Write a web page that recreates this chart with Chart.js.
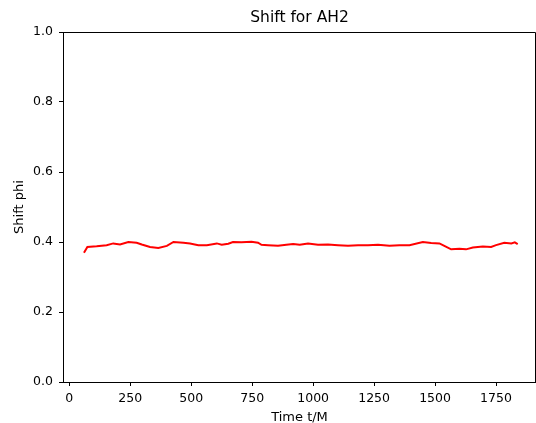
<!DOCTYPE html>
<html><head><meta charset="utf-8">
<script src="https://cdn.jsdelivr.net/npm/chart.js@4"></script>
<style>html,body{margin:0;padding:0;background:#fff}#wrap{width:536px;height:423px}</style>
</head><body><div id="wrap"><canvas id="c" width="536" height="423"></canvas></div>
<script>
const times = [60,74,112,153,180,208,242,276,297,331,365,400,427,468,495,529,564,605,625,652,
  671,706,747,774,788,815,856,890,918,945,979,1020,1061,1102,1143,1184,1225,1266,
  1313,1354,1395,1450,1484,1518,1538,1566,1600,1627,1655,1696,1730,1750,1784,1813,1827,1839];
const shift = [0.369,0.386,0.388,0.391,0.396,0.393,0.400,0.398,0.393,0.386,0.383,0.389,0.400,0.398,0.396,0.391,0.391,0.396,0.392,0.395,
  0.400,0.399,0.401,0.398,0.392,0.391,0.389,0.392,0.394,0.392,0.396,0.392,0.393,0.391,0.389,0.391,0.391,0.392,
  0.389,0.391,0.391,0.400,0.397,0.396,0.389,0.379,0.381,0.379,0.384,0.387,0.386,0.391,0.398,0.396,0.399,0.394];
const xTicks = [0,250,500,750,1000,1250,1500,1750];
const yTicks = [0.0,0.2,0.4,0.6,0.8,1.0];
const titleText = "Shift for AH2";
const xLabel = "Time t/M";
const yLabel = "Shift phi";

const FONT = "'DejaVu Sans', sans-serif";
const frame = {
  id: 'frame',
  afterDraw(chart) {
    const a = chart.chartArea, ctx = chart.ctx;
    ctx.save();
    ctx.strokeStyle = '#000';
    ctx.lineWidth = 1;
    ctx.beginPath();
    ctx.moveTo(a.left, Math.round(a.top) + 0.5);
    ctx.lineTo(Math.round(a.right) - 0.5, Math.round(a.top) + 0.5);
    ctx.lineTo(Math.round(a.right) - 0.5, a.bottom);
    ctx.stroke();
    ctx.fillStyle = '#000';
    ctx.font = "15.5px " + FONT;
    ctx.textAlign = 'center';
    ctx.textBaseline = 'middle';
    ctx.fillText(titleText, (a.left + a.right) / 2, 18);
    ctx.restore();
  }
};

new Chart(document.getElementById('c'), {
  type: 'line',
  data: {
    datasets: [{
      data: times.map((t, i) => ({x: t, y: shift[i]})),
      borderColor: '#ff0000',
      borderWidth: 2,
      pointRadius: 0,
      tension: 0,
      fill: false
    }]
  },
  options: {
    responsive: false,
    animation: false,
    devicePixelRatio: 1,
    layout: {padding: {left: 0, right: 0, top: 32, bottom: 0}},
    plugins: {
      legend: {display: false},
      tooltip: {enabled: false},
      title: {display: false}
    },
    scales: {
      x: {
        type: 'linear', min: -26, max: 1914,
        afterBuildTicks: s => { s.ticks = xTicks.map(v => ({value: v})); },
        afterFit: s => { s.height = 41; },
        grid: {display: true, drawOnChartArea: false, drawTicks: true, tickLength: 4, color: '#000', tickColor: '#000'},
        border: {display: true, color: '#000'},
        ticks: {color: '#000', font: {family: FONT, size: 12.5}, padding: 5, maxRotation: 0, autoSkip: false,
          callback: v => String(v)},
        title: {display: true, text: xLabel, color: '#000', font: {family: FONT, size: 13, lineHeight: 1}, padding: {top: 0, bottom: -1.5}}
      },
      y: {
        type: 'linear', min: 0, max: 1,
        afterBuildTicks: s => { s.ticks = yTicks.map(v => ({value: v})); },
        afterFit: s => { s.width = 63; },
        grid: {display: true, drawOnChartArea: false, drawTicks: true, tickLength: 4, color: '#000', tickColor: '#000'},
        border: {display: true, color: '#000'},
        ticks: {color: '#000', font: {family: FONT, size: 12.5}, padding: 6, autoSkip: false,
          callback: v => Number(v).toFixed(1)},
        title: {display: true, text: yLabel, color: '#000', font: {family: FONT, size: 13, lineHeight: 1}, padding: {top: 13, bottom: 0}}
      }
    }
  },
  plugins: [frame]
});
</script></body></html>
